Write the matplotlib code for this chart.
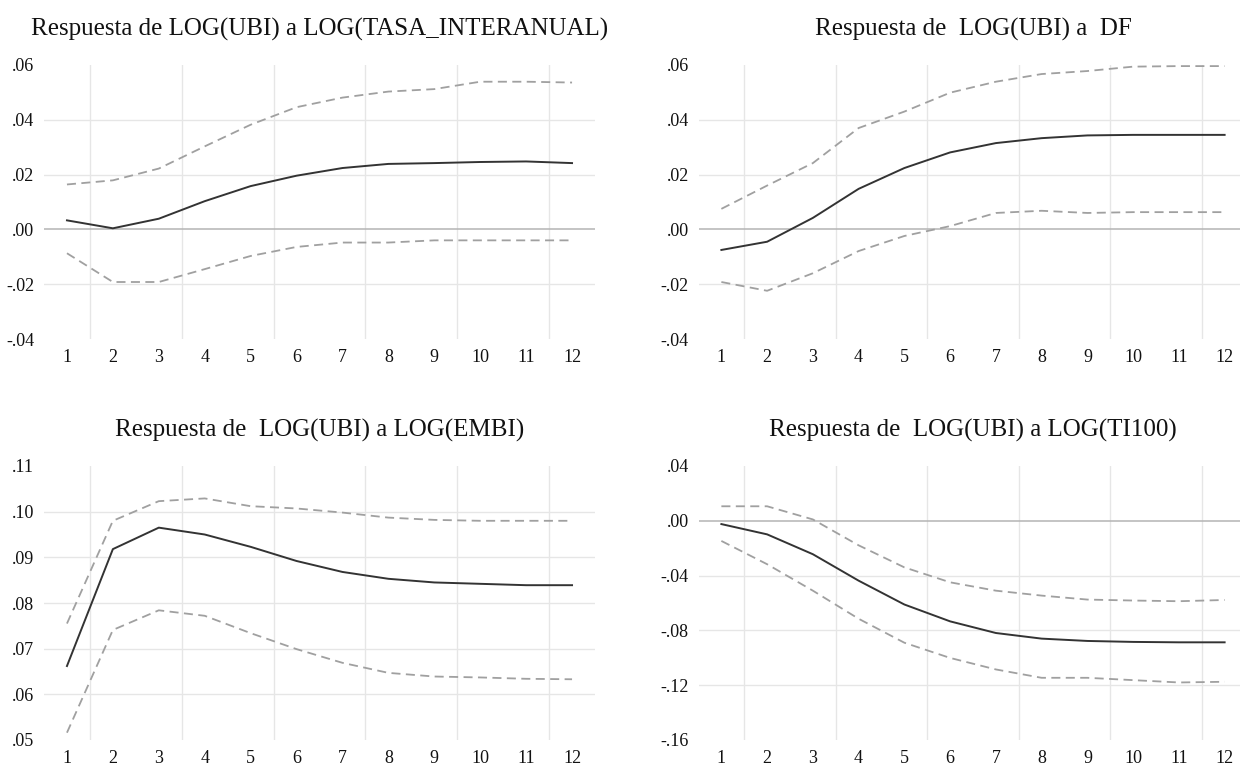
import numpy as np
import matplotlib
matplotlib.use("Agg")
import matplotlib.pyplot as plt
from matplotlib.ticker import FuncFormatter

plt.rcParams['font.family'] = ['Liberation Serif', 'DejaVu Serif']

periods = np.arange(1, 13)

# LOG(UBI) response to LOG(TASA_INTERANUAL)
tasa_resp = [0.0033, 0.0004, 0.0039, 0.0103, 0.0158, 0.0196, 0.0224, 0.0239, 0.0242, 0.0246, 0.0248, 0.0242]
tasa_upper = [0.0164, 0.0179, 0.0222, 0.0303, 0.0382, 0.0446, 0.0481, 0.0503, 0.0512, 0.0539, 0.0539, 0.0536]
tasa_lower = [-0.0087, -0.0192, -0.0192, -0.0145, -0.0097, -0.0064, -0.0048, -0.0048, -0.0040, -0.0040, -0.0040, -0.0040]

# LOG(UBI) response to DF
df_resp = [-0.0075, -0.0045, 0.0042, 0.0148, 0.0224, 0.0281, 0.0315, 0.0333, 0.0343, 0.0345, 0.0345, 0.0345]
df_upper = [0.0075, 0.0160, 0.0242, 0.0370, 0.0430, 0.0499, 0.0539, 0.0567, 0.0578, 0.0594, 0.0596, 0.0596]
df_lower = [-0.0192, -0.0224, -0.0160, -0.0079, -0.0024, 0.0012, 0.0060, 0.0068, 0.0060, 0.0063, 0.0063, 0.0063]

# LOG(UBI) response to LOG(EMBI)
embi_resp = [0.0662, 0.0918, 0.0965, 0.0950, 0.0923, 0.0892, 0.0868, 0.0853, 0.0845, 0.0842, 0.0839, 0.0839]
embi_upper = [0.0755, 0.0980, 0.1023, 0.1029, 0.1012, 0.1007, 0.0998, 0.0987, 0.0982, 0.0980, 0.0980, 0.0980]
embi_lower = [0.0516, 0.0741, 0.0784, 0.0772, 0.0734, 0.0699, 0.0669, 0.0647, 0.0639, 0.0637, 0.0634, 0.0633]

# LOG(UBI) response to LOG(TI100)
ti_resp = [-0.0024, -0.0099, -0.0244, -0.0437, -0.0611, -0.0734, -0.0819, -0.0860, -0.0877, -0.0884, -0.0887, -0.0887]
ti_upper = [0.0106, 0.0106, 0.0010, -0.0179, -0.0340, -0.0449, -0.0510, -0.0546, -0.0575, -0.0582, -0.0587, -0.0578]
ti_lower = [-0.0147, -0.0317, -0.0510, -0.0715, -0.0890, -0.1001, -0.1085, -0.1146, -0.1146, -0.1163, -0.1180, -0.1175]

titles = ["Respuesta de LOG(UBI) a LOG(TASA_INTERANUAL)",
          "Respuesta de  LOG(UBI) a  DF",
          "Respuesta de  LOG(UBI) a LOG(EMBI)",
          "Respuesta de  LOG(UBI) a LOG(TI100)"]
y_ticks = [[-0.04, -0.02, 0.00, 0.02, 0.04, 0.06],
           [-0.04, -0.02, 0.00, 0.02, 0.04, 0.06],
           [0.05, 0.06, 0.07, 0.08, 0.09, 0.10, 0.11],
           [-0.16, -0.12, -0.08, -0.04, 0.00, 0.04]]
series = [(tasa_resp, tasa_upper, tasa_lower),
          (df_resp, df_upper, df_lower),
          (embi_resp, embi_upper, embi_lower),
          (ti_resp, ti_upper, ti_lower)]

W, H = 1240, 765
fig = plt.figure(figsize=(W / 100, H / 100), dpi=100)

# axes boxes in pixels: left, top, width, height
boxes = [(44, 65, 551, 274), (698.5, 65, 549, 274),
         (44, 466, 551, 274), (698.5, 466, 549, 274)]


def fmt(v, pos):
    s = "%.2f" % v
    if s.startswith("-0"):
        return "-" + s[2:]
    if s.startswith("0"):
        return s[1:]
    return s


for i, (box, title, ticks, (resp, up, lo)) in enumerate(zip(boxes, titles, y_ticks, series)):
    l, t, w, h = box
    ax = fig.add_axes([l / W, 1 - (t + h) / H, w / W, h / H])
    ax.set_xlim(0.5, 12.5)
    ax.set_ylim(ticks[0], ticks[-1])

    for xv in np.arange(1.5, 12.5, 2):
        ax.axvline(xv, color="#e6e6e6", lw=1.0, zorder=0)
    for yv in ticks[1:-1]:
        if abs(yv) < 1e-9:
            ax.axhline(0, color="#b4b4b4", lw=1.1, zorder=1)
        else:
            ax.axhline(yv, color="#e6e6e6", lw=1.0, zorder=0)

    ax.plot(periods, up, color="#a0a0a0", lw=1.3, ls=(0, (5, 3)), zorder=2)
    ax.plot(periods, lo, color="#a0a0a0", lw=1.3, ls=(0, (5, 3)), zorder=2)
    ax.plot(periods, resp, color="#333333", lw=1.4, zorder=3)

    ax.set_xticks(periods)
    ax.set_yticks(ticks)
    ax.yaxis.set_major_formatter(FuncFormatter(fmt))
    ax.tick_params(length=0, labelsize=13, colors="#111111")
    ax.tick_params(axis="x", pad=7)
    ax.tick_params(axis="y", pad=7)
    for sp in ax.spines.values():
        sp.set_visible(False)
    ax.set_title(title, fontsize=18, pad=21, color="#111111")

fig.savefig("out.png", dpi=100)
